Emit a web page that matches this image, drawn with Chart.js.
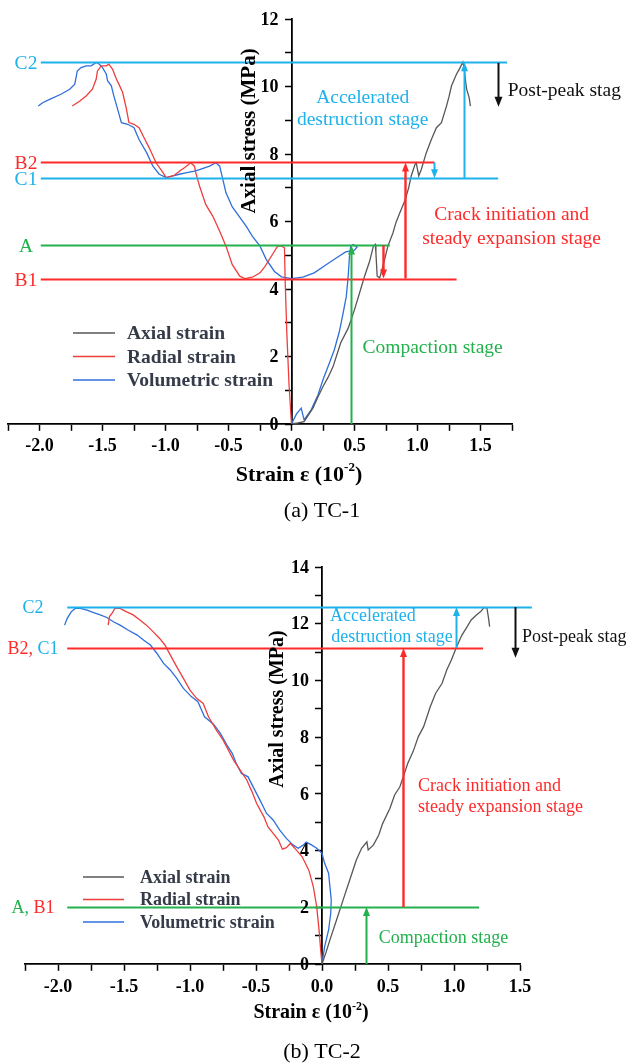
<!DOCTYPE html>
<html>
<head>
<meta charset="utf-8">
<script src="https://cdn.jsdelivr.net/npm/chart.js@4.4.1/dist/chart.umd.min.js"></script>
<style>
  html, body { margin: 0; padding: 0; background: #fff; }
  #wrap { position: relative; width: 626px; height: 1063px; }
  canvas { position: absolute; left: 0; }
  #tc1 { top: 0; }
  #tc2 { top: 505px; }
</style>
</head>
<body>
<div id="wrap">
  <canvas id="tc1" width="626" height="530"></canvas>
  <canvas id="tc2" width="626" height="558"></canvas>
</div>
<script>
// ---------- TC-1 data (strain in 10^-2, stress in MPa) ----------
const tc1AxialStrain = [0, 0.05, 0.10, 0.17, 0.21, 0.25, 0.29, 0.33, 0.36, 0.39, 0.45, 0.50, 0.54, 0.58, 0.62, 0.65, 0.665, 0.67, 0.68, 0.70, 0.725, 0.765, 0.805, 0.83, 0.86, 0.90, 0.93, 0.95, 0.98, 0.99, 1.01, 1.03, 1.07, 1.11, 1.15, 1.19, 1.23, 1.25, 1.27, 1.31, 1.33, 1.36, 1.37, 1.38, 1.39, 1.41, 1.42];
const tc1AxialStress = [0, 0.03, 0.07, 0.47, 0.80, 1.11, 1.38, 1.70, 2.05, 2.40, 2.84, 3.39, 3.88, 4.38, 4.82, 5.27, 5.32, 5.07, 4.38, 4.33, 4.67, 5.27, 5.66, 5.98, 6.26, 6.62, 7.00, 7.35, 7.69, 7.74, 7.35, 7.54, 8.04, 8.43, 8.78, 8.93, 9.42, 9.70, 10.02, 10.37, 10.50, 10.72, 10.55, 10.20, 9.92, 9.67, 9.42];

const tc1RadialStrain = [0, -0.02, -0.037, -0.05, -0.056, -0.077, -0.11, -0.16, -0.21, -0.25, -0.31, -0.37, -0.41, -0.47, -0.52, -0.57, -0.625, -0.68, -0.73, -0.76, -0.77, -0.80, -0.85, -0.89, -0.93, -0.995, -1.02, -1.075, -1.13, -1.17, -1.21, -1.25, -1.29, -1.31, -1.34, -1.37, -1.39, -1.42, -1.45, -1.47, -1.51, -1.54, -1.55, -1.58, -1.63, -1.68, -1.74];
const tc1RadialStress = [0, 1.20, 2.69, 4.20, 5.22, 5.27, 5.27, 4.97, 4.67, 4.48, 4.35, 4.31, 4.38, 4.72, 5.27, 5.71, 6.16, 6.50, 7.05, 7.45, 7.64, 7.74, 7.59, 7.49, 7.37, 7.30, 7.45, 7.74, 8.19, 8.48, 8.78, 8.88, 8.93, 9.33, 9.82, 10.07, 10.22, 10.51, 10.66, 10.61, 10.61, 10.46, 10.22, 9.92, 9.72, 9.57, 9.42];

const tc1VolStrain = [0, 0.04, 0.077, 0.10, 0.156, 0.21, 0.25, 0.30, 0.34, 0.38, 0.41, 0.435, 0.45, 0.46, 0.47, 0.49, 0.52, 0.50, 0.43, 0.355, 0.275, 0.18, 0.09, 0.0, -0.08, -0.135, -0.20, -0.25, -0.31, -0.36, -0.41, -0.47, -0.52, -0.545, -0.57, -0.60, -0.65, -0.73, -0.77, -0.84, -0.89, -0.94, -0.995, -1.05, -1.10, -1.15, -1.21, -1.25, -1.30, -1.35, -1.38, -1.41, -1.43, -1.46, -1.47, -1.50, -1.525, -1.55, -1.59, -1.63, -1.67, -1.70, -1.72, -1.76, -1.83, -1.92, -1.975, -2.01];
const tc1VolStress = [0, 0.30, 0.47, 0.12, 0.42, 0.86, 1.31, 1.80, 2.20, 2.74, 3.29, 3.78, 4.38, 4.97, 5.27, 5.32, 5.24, 5.15, 5.10, 4.92, 4.72, 4.48, 4.35, 4.31, 4.36, 4.52, 4.87, 5.27, 5.56, 5.86, 6.12, 6.43, 6.85, 7.25, 7.64, 7.74, 7.64, 7.54, 7.49, 7.44, 7.40, 7.35, 7.30, 7.40, 7.64, 8.04, 8.43, 8.78, 8.88, 8.93, 9.33, 9.72, 10.02, 10.17, 10.37, 10.56, 10.66, 10.71, 10.61, 10.61, 10.56, 10.46, 10.07, 9.92, 9.77, 9.62, 9.52, 9.42];

// stage levels for TC-1
const tc1LevelNames = ['C2', 'B2', 'C1', 'A', 'B1'];
const tc1LevelStress = [10.72, 7.75, 7.28, 5.29, 4.31];
const tc1LevelEnd = [1.71, 1.135, 1.64, 0.78, 1.31];
// stage arrows for TC-1
const tc1ArrowStage = ['C', 'C', 'P', 'B', 'B', 'A'];
const tc1ArrowStrain = [1.366, 1.13, 1.64, 0.90, 0.73, 0.47];
const tc1ArrowFrom = [7.28, 7.75, 10.70, 4.31, 5.29, 0];
const tc1ArrowTo = [10.72, 7.28, 9.40, 7.75, 4.31, 5.29];
// stage notes for TC-1
const tc1NoteText = ['Accelerated', 'destruction stage', 'Post-peak stag', 'Crack initiation and', 'steady expansion stage', 'Compaction stage'];
const tc1NoteStage = ['C', 'C', 'P', 'B', 'B', 'A'];
const tc1NoteStrain = [0.565, 0.565, 1.716, 1.747, 1.747, 1.12];
const tc1NoteStress = [9.65, 9.0, 9.86, 6.21, 5.49, 2.26];

// ---------- TC-2 data ----------
const tc2AxialStrain = [0, 0.03, 0.06, 0.11, 0.16, 0.21, 0.26, 0.30, 0.34, 0.35, 0.39, 0.43, 0.46, 0.515, 0.55, 0.59, 0.62, 0.65, 0.69, 0.73, 0.77, 0.82, 0.86, 0.91, 0.945, 0.98, 1.02, 1.06, 1.10, 1.13, 1.17, 1.20, 1.23, 1.25, 1.26, 1.27];
const tc2AxialStress = [0, 0.40, 0.85, 1.55, 2.26, 2.96, 3.67, 4.08, 4.31, 4.02, 4.20, 4.55, 4.96, 5.49, 5.96, 6.25, 6.66, 7.08, 7.49, 8.02, 8.37, 9.07, 9.54, 9.90, 10.37, 10.72, 11.19, 11.60, 11.90, 12.13, 12.31, 12.42, 12.58, 12.54, 12.25, 11.90];

const tc2RadialStrain = [0, -0.01, -0.02, -0.04, -0.066, -0.10, -0.15, -0.20, -0.24, -0.27, -0.30, -0.33, -0.37, -0.41, -0.44, -0.495, -0.53, -0.57, -0.62, -0.67, -0.71, -0.75, -0.80, -0.86, -0.90, -0.95, -1.00, -1.05, -1.10, -1.15, -1.19, -1.23, -1.28, -1.33, -1.38, -1.43, -1.48, -1.53, -1.57, -1.59, -1.61, -1.62];
const tc2RadialStress = [0, 0.50, 1.08, 2.02, 2.73, 3.31, 3.78, 4.05, 4.25, 4.10, 4.05, 4.37, 4.61, 4.84, 5.19, 5.66, 6.07, 6.49, 6.84, 7.19, 7.55, 7.90, 8.25, 8.72, 9.19, 9.37, 9.66, 10.07, 10.48, 10.90, 11.25, 11.48, 11.72, 11.95, 12.13, 12.31, 12.42, 12.54, 12.54, 12.37, 12.25, 11.95];

const tc2VolStrain = [0, 0.02, 0.05, 0.066, 0.07, 0.06, 0.05, 0.02, 0, -0.04, -0.08, -0.12, -0.14, -0.18, -0.22, -0.27, -0.32, -0.37, -0.42, -0.47, -0.51, -0.56, -0.61, -0.65, -0.68, -0.72, -0.77, -0.82, -0.89, -0.94, -0.99, -1.05, -1.10, -1.15, -1.20, -1.25, -1.30, -1.35, -1.40, -1.47, -1.53, -1.58, -1.63, -1.68, -1.73, -1.78, -1.83, -1.87, -1.90, -1.93, -1.95];
const tc2VolStress = [0, 0.61, 1.20, 1.79, 2.26, 2.73, 3.20, 3.55, 3.90, 4.08, 4.20, 4.30, 4.20, 4.08, 4.20, 4.43, 4.72, 5.08, 5.31, 5.78, 6.14, 6.60, 6.72, 7.08, 7.43, 7.72, 8.13, 8.45, 8.72, 9.25, 9.43, 9.72, 10.07, 10.37, 10.60, 10.95, 11.25, 11.42, 11.60, 11.78, 11.95, 12.07, 12.22, 12.31, 12.39, 12.48, 12.54, 12.54, 12.42, 12.19, 11.95];

// stage levels for TC-2
const tc2LevelNames = ['C2', 'B2, C1', 'A, B1'];
const tc2LevelStress = [12.59, 11.14, 2.01];
const tc2LevelEnd = [1.59, 1.22, 1.19];
// stage arrows for TC-2
const tc2ArrowStage = ['C', 'P', 'B', 'A'];
const tc2ArrowStrain = [1.015, 1.46, 0.61, 0.33];
const tc2ArrowFrom = [11.14, 12.59, 2.01, 0];
const tc2ArrowTo = [12.59, 10.80, 11.14, 2.01];
// stage notes for TC-2
const tc2NoteText = ['Accelerated', 'destruction stage', 'Post-peak stag', 'Crack initiation and', 'steady expansion stage', 'Compaction stage'];
const tc2NoteStage = ['C', 'C', 'P', 'B', 'B', 'A'];
const tc2NoteStrain = [0.06, 0.07, 1.515, 0.727, 0.727, 0.43];
const tc2NoteStress = [12.27, 11.53, 11.53, 6.28, 5.54, 0.92];

const seriesNames = ['Axial strain', 'Radial strain', 'Volumetric strain'];

// ---------- styles ----------
const SERIF = "'Liberation Serif', 'Times New Roman', serif";
const STAGE_COLORS = { A: '#22b14c', B: '#fe2a2a', C: '#1db2ec', P: '#111111' };
const SERIES_COLORS = ['#575757', '#ef3d3d', '#2f6fdb'];

Chart.defaults.font.family = SERIF;
Chart.defaults.color = '#000';

const pts = (xs, ys) => xs.map((v, i) => ({ x: v, y: ys[i] }));

function drawArrow(ctx, px, p0, p1, color, width, headW, headL) {
    const dir = p1 < p0 ? -1 : 1;
    ctx.strokeStyle = color;
    ctx.fillStyle = color;
    ctx.lineWidth = width;
    ctx.beginPath();
    ctx.moveTo(px, p0);
    ctx.lineTo(px, p1 - dir * headL * 0.7);
    ctx.stroke();
    ctx.beginPath();
    ctx.moveTo(px, p1);
    ctx.lineTo(px - headW / 2, p1 - dir * headL);
    ctx.lineTo(px + headW / 2, p1 - dir * headL);
    ctx.closePath();
    ctx.fill();
}

/**
 * Stage annotations, legend, axis titles and caption
 */
const stagePlugin = {
    id: 'stages',
    afterDatasetsDraw(chart, args, o) {
        const { ctx, scales: { x, y } } = chart;
        ctx.save();

        // horizontal stage levels with their names
        o.levelNames.forEach((name, i) => {
            const py = Math.round(y.getPixelForValue(o.levelStress[i])) + 0.5;
            const parts = name.split(', ');
            ctx.strokeStyle = STAGE_COLORS[parts[0].charAt(0)];
            ctx.lineWidth = 1.8;
            ctx.beginPath();
            ctx.moveTo(x.getPixelForValue(o.levelStart), py);
            ctx.lineTo(x.getPixelForValue(o.levelEnd[i]), py);
            ctx.stroke();

            ctx.font = o.noteSize + 'px ' + SERIF;
            ctx.textBaseline = 'middle';
            ctx.textAlign = 'left';
            const pieces = [];
            parts.forEach((p, k) => {
                const txt = k < parts.length - 1 ? p + ', ' : p;
                pieces.push({ txt, color: STAGE_COLORS[p.charAt(0)] });
            });
            const total = pieces.reduce((s, p) => s + ctx.measureText(p.txt).width, 0);
            let lx = o.labelCenter - total / 2;
            pieces.forEach(p => {
                ctx.fillStyle = p.color;
                ctx.fillText(p.txt, lx, py + 1);
                lx += ctx.measureText(p.txt).width;
            });
        });

        // stage arrows
        o.arrowStage.forEach((s, i) => {
            const px = Math.round(x.getPixelForValue(o.arrowStrain[i])) + 0.5;
            const big = s === 'P';
            drawArrow(ctx, px, y.getPixelForValue(o.arrowFrom[i]), y.getPixelForValue(o.arrowTo[i]),
                STAGE_COLORS[s], s === 'B' ? 2.4 : 2, big ? 8 : 7, big ? 10 : 9);
        });

        // stage notes
        ctx.font = o.noteSize + 'px ' + SERIF;
        ctx.textBaseline = 'middle';
        o.noteText.forEach((t, i) => {
            ctx.fillStyle = STAGE_COLORS[o.noteStage[i]];
            ctx.textAlign = o.noteAlign[i];
            ctx.fillText(t, x.getPixelForValue(o.noteStrain[i]), y.getPixelForValue(o.noteStress[i]));
        });

        ctx.restore();
    },
    afterDraw(chart, args, o) {
        const { ctx, scales: { x, y } } = chart;
        ctx.save();
        const axisX = x.getPixelForValue(0);

        // y tick labels (axis sits in the middle of the plot)
        ctx.font = 'bold ' + o.tickSize + 'px ' + SERIF;
        ctx.fillStyle = '#000';
        ctx.textAlign = 'right';
        ctx.textBaseline = 'middle';
        y.ticks.forEach(t => {
            if (t.value % 2 === 0) ctx.fillText(String(t.value), axisX - 13, y.getPixelForValue(t.value) + 1);
        });

        // legend
        ctx.font = 'bold ' + o.legendSize + 'px ' + SERIF;
        ctx.textAlign = 'left';
        seriesNames.forEach((n, i) => {
            const ly = o.legend.y + i * o.legend.gap;
            ctx.strokeStyle = SERIES_COLORS[i];
            ctx.lineWidth = 1.5;
            ctx.beginPath();
            ctx.moveTo(o.legend.x0, ly);
            ctx.lineTo(o.legend.x1, ly);
            ctx.stroke();
            ctx.fillStyle = '#363b49';
            ctx.fillText(n, o.legend.tx, ly + 1);
        });

        // y title
        ctx.fillStyle = '#000';
        ctx.font = 'bold ' + o.yTitleSize + 'px ' + SERIF;
        ctx.save();
        ctx.translate(o.yTitle.x, o.yTitle.y);
        ctx.rotate(-Math.PI / 2);
        ctx.textAlign = 'center';
        ctx.fillText('Axial stress (MPa)', 0, 0);
        ctx.restore();

        // x title with superscript
        const main = 'Strain \u03b5 (10';
        const sup = '-2';
        const close = ')';
        const mainFont = 'bold ' + o.xTitleSize + 'px ' + SERIF;
        const supFont = 'bold ' + Math.round(o.xTitleSize * 0.6) + 'px ' + SERIF;
        ctx.textAlign = 'left';
        ctx.font = mainFont;
        const w1 = ctx.measureText(main).width;
        const w3 = ctx.measureText(close).width;
        ctx.font = supFont;
        const w2 = ctx.measureText(sup).width;
        let tx = o.xTitle.x - (w1 + w2 + w3) / 2;
        ctx.font = mainFont;
        ctx.fillText(main, tx, o.xTitle.y);
        tx += w1;
        ctx.font = supFont;
        ctx.fillText(sup, tx, o.xTitle.y - o.xTitleSize * 0.32);
        tx += w2;
        ctx.font = mainFont;
        ctx.fillText(close, tx, o.xTitle.y);

        // caption
        ctx.font = o.captionSize + 'px ' + SERIF;
        ctx.textAlign = 'center';
        ctx.fillText(o.caption, o.captionPos.x, o.captionPos.y);
        ctx.restore();
    }
};

function makeChart(id, d) {
    const tickLabel = v => Math.abs(v * 2 - Math.round(v * 2)) < 1e-6 ? v.toFixed(1) : '';
    return new Chart(document.getElementById(id), {
        type: 'scatter',
        data: {
            datasets: d.series.map((s, i) => ({
                label: seriesNames[i],
                data: s,
                showLine: true,
                pointRadius: 0,
                borderWidth: 1.3,
                borderColor: SERIES_COLORS[i],
                backgroundColor: SERIES_COLORS[i]
            }))
        },
        options: {
            responsive: false,
            animation: false,
            layout: { padding: d.padding },
            plugins: {
                legend: { display: false },
                tooltip: { enabled: false },
                stages: d.stages
            },
            scales: {
                x: {
                    type: 'linear',
                    min: -2.25,
                    max: d.xMax,
                    position: { y: 0 },
                    ticks: {
                        stepSize: 0.25,
                        autoSkip: false,
                        maxRotation: 0,
                        padding: d.xTickPad,
                        color: '#000',
                        font: { size: d.stages.tickSize, weight: 'bold' },
                        callback: tickLabel
                    },
                    grid: { drawOnChartArea: false, tickLength: 6, tickColor: '#000', tickWidth: 1.5 },
                    border: { color: '#000', width: 1.8 }
                },
                y: {
                    type: 'linear',
                    min: 0,
                    max: d.yMax,
                    position: { x: 0 },
                    ticks: { stepSize: 1, autoSkip: false, display: false },
                    grid: { drawOnChartArea: false, tickLength: 6, tickColor: '#000', tickWidth: 1.5 },
                    border: { color: '#000', width: 1.8 }
                }
            }
        },
        plugins: [stagePlugin]
    });
}

makeChart('tc1', {
    series: [pts(tc1AxialStrain, tc1AxialStress), pts(tc1RadialStrain, tc1RadialStress), pts(tc1VolStrain, tc1VolStress)],
    padding: { left: 8, right: 114, top: 19, bottom: 106 },
    xMax: 1.75,
    yMax: 12,
    xTickPad: 6,
    stages: {
        levelNames: tc1LevelNames, levelStress: tc1LevelStress, levelEnd: tc1LevelEnd, levelStart: -1.99,
        labelCenter: 26,
        arrowStage: tc1ArrowStage, arrowStrain: tc1ArrowStrain, arrowFrom: tc1ArrowFrom, arrowTo: tc1ArrowTo,
        noteText: tc1NoteText, noteStage: tc1NoteStage, noteStrain: tc1NoteStrain, noteStress: tc1NoteStress,
        noteAlign: ['center', 'center', 'left', 'center', 'center', 'center'],
        noteSize: 19.5, tickSize: 18, legendSize: 19.5, yTitleSize: 21, xTitleSize: 22, captionSize: 22,
        legend: { x0: 73, x1: 115, tx: 127, y: 333, gap: 23.5 },
        yTitle: { x: 250, y: 131 },
        xTitle: { x: 299, y: 475 },
        caption: '(a) TC-1', captionPos: { x: 322, y: 511 }
    }
});

makeChart('tc2', {
    series: [pts(tc2AxialStrain, tc2AxialStress), pts(tc2RadialStrain, tc2RadialStress), pts(tc2VolStrain, tc2VolStress)],
    padding: { left: 25, right: 106, top: 62, bottom: 99 },
    xMax: 1.5,
    yMax: 14,
    xTickPad: 7,
    stages: {
        levelNames: tc2LevelNames, levelStress: tc2LevelStress, levelEnd: tc2LevelEnd, levelStart: -1.93,
        labelCenter: 33,
        arrowStage: tc2ArrowStage, arrowStrain: tc2ArrowStrain, arrowFrom: tc2ArrowFrom, arrowTo: tc2ArrowTo,
        noteText: tc2NoteText, noteStage: tc2NoteStage, noteStrain: tc2NoteStrain, noteStress: tc2NoteStress,
        noteAlign: ['left', 'left', 'left', 'left', 'left', 'left'],
        noteSize: 18, tickSize: 18, legendSize: 18, yTitleSize: 20, xTitleSize: 20, captionSize: 22,
        legend: { x0: 83, x1: 124, tx: 140, y: 372, gap: 22.5 },
        yTitle: { x: 278, y: 204 },
        xTitle: { x: 311, y: 508 },
        caption: '(b) TC-2', captionPos: { x: 322, y: 547 }
    }
});
</script>
</body>
</html>
